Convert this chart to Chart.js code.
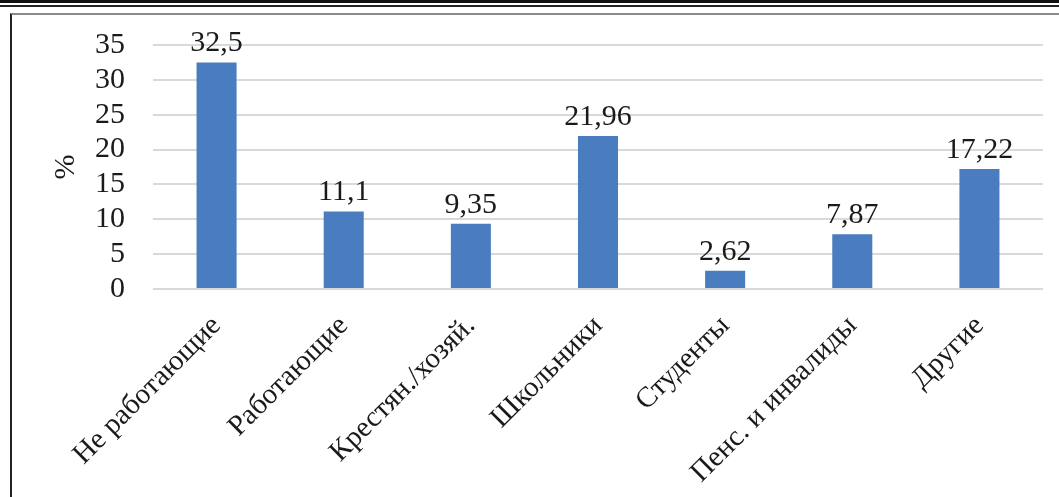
<!DOCTYPE html>
<html>
<head>
<meta charset="utf-8">
<script src="https://cdn.jsdelivr.net/npm/chart.js@4/dist/chart.umd.min.js"></script>
<style>
  html, body { margin: 0; padding: 0; background: #fff; }
  body { width: 1059px; height: 497px; position: relative; overflow: hidden; }
  .topbar { position: absolute; left: 0; top: 0; width: 1059px; height: 3px; background: #111; }
  .topbar2 { position: absolute; left: 0; top: 5px; width: 1059px; height: 2px; background: #222; }
  .frame { position: absolute; left: 10px; top: 13px; width: 1049px; height: 484px;
           border-top: 2px solid #8a8a8a; border-left: 2px solid #222; box-sizing: border-box; }
  #wrap { position: absolute; left: 12px; top: 16px; width: 1047px; height: 481px; }
</style>
</head>
<body>
<div class="topbar"></div>
<div class="topbar2"></div>
<div class="frame"></div>
<div id="wrap"><canvas id="chart"></canvas></div>
<script>
const categories = ['Не работающие', 'Работающие', 'Крестян./хозяй.', 'Школьники', 'Студенты', 'Пенс. и инвалиды', 'Другие'];
const shares = [32.5, 11.1, 9.35, 21.96, 2.62, 7.87, 17.22];
const yTicks = [0, 5, 10, 15, 20, 25, 30, 35];

const serif = '"Liberation Serif", "DejaVu Serif", serif';
const textColor = '#1a1a1a';

// value labels over the bars, comma as decimal separator
const barLabels = {
  id: 'barLabels',
  afterDatasetsDraw(chart) {
    const ctx = chart.ctx;
    const meta = chart.getDatasetMeta(0);
    ctx.save();
    ctx.font = '30px ' + serif;
    ctx.fillStyle = textColor;
    ctx.textAlign = 'center';
    ctx.textBaseline = 'bottom';
    meta.data.forEach((bar, i) => {
      const txt = String(shares[i]).replace('.', ',');
      ctx.fillText(txt, bar.x, bar.y - 4);
    });
    ctx.restore();
  }
};

new Chart(document.getElementById('chart'), {
  type: 'bar',
  data: {
    labels: categories,
    datasets: [{
      data: shares,
      backgroundColor: '#4a7dc0',
      borderWidth: 0,
      barPercentage: 0.63,
      categoryPercentage: 0.5
    }]
  },
  options: {
    responsive: true,
    maintainAspectRatio: false,
    animation: false,
    layout: { padding: { top: 29, right: 16, left: 0, bottom: 0 } },
    plugins: {
      legend: { display: false },
      tooltip: { enabled: false }
    },
    scales: {
      x: {
        grid: { display: false },
        border: { display: false },
        ticks: {
          color: textColor,
          font: { family: serif, size: 29 },
          minRotation: 45,
          maxRotation: 45,
          autoSkip: false,
          padding: 12
        },
        afterFit(scale) { scale.height = 208; }
      },
      y: {
        min: 0,
        max: yTicks[yTicks.length - 1],
        afterBuildTicks(scale) { scale.ticks = yTicks.map(v => ({ value: v })); },
        grid: { color: '#d9d9d9', lineWidth: 2, drawTicks: false },
        border: { display: false },
        ticks: {
          color: textColor,
          font: { family: serif, size: 30 },
          autoSkip: false,
          padding: 28
        },
        title: {
          display: true,
          text: '%',
          color: textColor,
          font: { family: serif, size: 30 },
          padding: { top: 36, bottom: 0 }
        },
        afterFit(scale) {
          scale.width = 141;
          scale.paddingTop = 0;
          scale.paddingBottom = 0;
        }
      }
    }
  },
  plugins: [barLabels]
});
</script>
</body>
</html>
